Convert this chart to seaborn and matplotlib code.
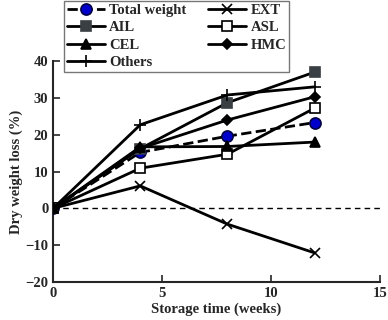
import matplotlib
matplotlib.use("Agg")
import matplotlib.pyplot as plt
import seaborn as sns
import pandas as pd

weeks = [0, 4, 8, 12]
total_weight = [0, 15.2, 19.6, 23.3]
ail = [0, 16.2, 28.7, 37.0]
asl = [0, 10.9, 14.7, 27.2]
cel = [0, 16.7, 16.8, 18.0]
hmc = [0, 16.3, 24.0, 30.3]
others = [0, 22.7, 30.8, 33.0]
ext = [0, 6.1, -4.3, -12.1]

series = [
    ("Total weight", total_weight, dict(marker="o", ls="--", mfc="#0000cc", mec="#000044", ms=8)),
    ("EXT", ext, dict(marker="x", ls="-", mfc="black", mec="black", ms=7)),
    ("AIL", ail, dict(marker="s", ls="-", mfc="#3a3f44", mec="#3a3f44", ms=7)),
    ("ASL", asl, dict(marker="s", ls="-", mfc="white", mec="black", ms=7)),
    ("CEL", cel, dict(marker="^", ls="-", mfc="black", mec="black", ms=7)),
    ("HMC", hmc, dict(marker="D", ls="-", mfc="black", mec="black", ms=5)),
    ("Others", others, dict(marker="+", ls="-", mfc="black", mec="black", ms=9)),
]
legend_order = ["Total weight", "AIL", "CEL", "Others", "EXT", "ASL", "HMC"]

sns.set_style("ticks")
plt.rcParams["font.family"] = ["Liberation Serif", "DejaVu Serif"]
plt.rcParams["font.weight"] = "bold"

fig = plt.figure(figsize=(3.88, 3.2), dpi=100)
ax = fig.add_axes([0.137, 0.119, 0.842, 0.69])

ax.axhline(0, color="black", lw=1, ls=(0, (4, 3)), zorder=1)

for name, vals, st in series:
    df = pd.DataFrame({"x": weeks, "y": vals})
    sns.lineplot(data=df, x="x", y="y", ax=ax, color="black", lw=2,
                 linestyle=st["ls"], marker=st["marker"], markersize=st["ms"],
                 markerfacecolor=st["mfc"], markeredgecolor=st["mec"],
                 markeredgewidth=1.2, label=name, zorder=3)

ax.set_xlim(0, 15)
ax.set_ylim(-20, 40)
ax.set_xticks([0, 5, 10, 15])
ax.set_yticks([-20, -10, 0, 10, 20, 30, 40])
ax.tick_params(direction="in", length=5, width=1.2, labelsize=10.5)
for lbl in ax.get_xticklabels() + ax.get_yticklabels():
    lbl.set_fontweight("bold")
ax.set_xlabel("Storage time (weeks)", fontsize=10.5, fontweight="bold", labelpad=2)
ax.set_ylabel("Dry weight loss (%)", fontsize=10.5, fontweight="bold", labelpad=2)
sns.despine(ax=ax)
for sp in ["left", "bottom"]:
    ax.spines[sp].set_linewidth(1.5)

handles, labels = ax.get_legend_handles_labels()
ax.get_legend().remove()
hmap = dict(zip(labels, handles))
leg = fig.legend([hmap[n] for n in legend_order], legend_order, ncol=2,
                 loc="upper left", bbox_to_anchor=(0.165, 0.997),
                 borderaxespad=0.0,
                 frameon=True, fancybox=False,
                 edgecolor="#777777", framealpha=1, borderpad=0.2,
                 handlelength=2.6, handletextpad=0.3, columnspacing=1.5,
                 labelspacing=0.28, prop={"weight": "bold", "size": 10.5})
leg.get_frame().set_linewidth(1.0)

fig.savefig("out.png", dpi=100)
